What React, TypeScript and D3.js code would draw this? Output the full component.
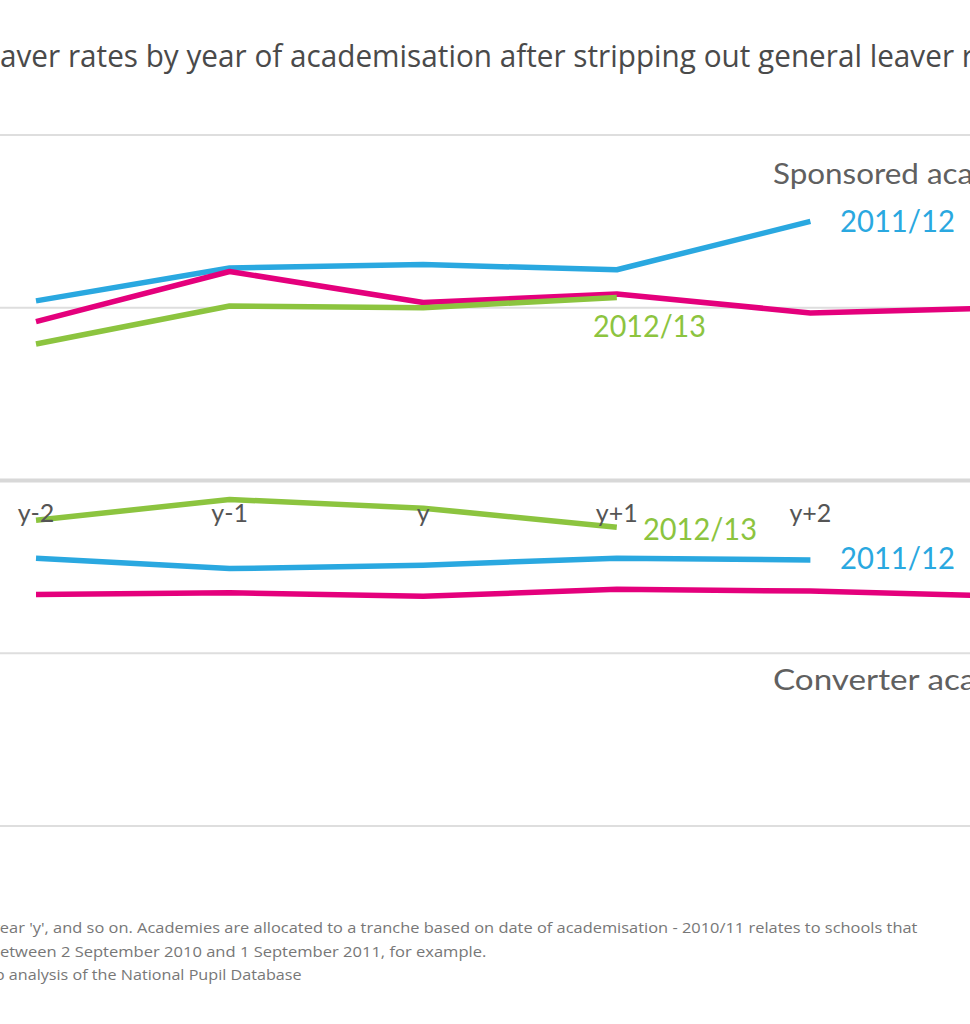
import React, { useEffect, useRef } from "react";
import * as d3 from "d3";

const periods = ["y-2", "y-1", "y", "y+1", "y+2", "y+3"];
const tickLabels = ["y-2", "y-1", "y", "y+1", "y+2"];

// excess leaver rates (pp), sponsored academies
const sponsored201011 = [0.92, 1.21, 1.03, 1.08, 0.97, 1.0];
const sponsored201112 = [1.04, 1.23, 1.25, 1.22, 1.5];
const sponsored201213 = [0.79, 1.01, 1.0, 1.06];

// converter academies
const converter201011 = [-0.66, -0.65, -0.67, -0.63, -0.64, -0.67];
const converter201112 = [-0.45, -0.51, -0.49, -0.45, -0.46];
const converter201213 = [-0.23, -0.11, -0.16, -0.27];

const gridValues = [2, 1, -1, -2];

const title =
  "Leaver rates by year of academisation after stripping out general leaver rates";
const notes = [
  "Notes: the year of academisation is year 'y', and so on. Academies are allocated to a tranche  based on date of academisation - 2010/11 relates to schools that",
  "converted between 2 September 2010 and 1 September 2011, for example.",
  "Source: Education Datalab analysis of the National Pupil Database",
];

const BLUE = "#2aa8e0";
const PINK = "#e4007c";
const GREEN = "#8cc43f";

const W = 970;
const H = 1024;

const App = () => {
  const ref = useRef<SVGSVGElement>(null);

  useEffect(() => {
    const svg = d3.select(ref.current);
    svg.selectAll("*").remove();

    const x = d3.scalePoint<string>().domain(periods).range([36, 1004]);
    const y = d3.scaleLinear().domain([-2, 2]).range([826, 135]);

    // text placed so that a given char sits at px, optionally squeezed to a width
    const placeText = (
      str: string,
      opts: {
        px: number;
        py: number;
        size: number;
        fill: string;
        family?: string;
        from?: number;
        to?: number;
        width?: number;
      }
    ) => {
      const t = svg
        .append("text")
        .attr("font-family", opts.family || "Lato, 'Open Sans', sans-serif")
        .attr("font-size", opts.size)
        .attr("fill", opts.fill)
        .text(str);
      const node = t.node() as SVGTextElement;
      const from = opts.from || 0;
      const pre = from ? node.getSubStringLength(0, from) : 0;
      let sx = 1;
      if (opts.width) {
        const to = opts.to ?? str.length;
        sx = opts.width / node.getSubStringLength(from, to - from);
      }
      t.attr("x", -pre).attr("y", 0);
      t.attr("transform", `translate(${opts.px},${opts.py}) scale(${sx},1)`);
      return t;
    };

    // title
    const tStart = title.indexOf("aver");
    const tEnd = title.lastIndexOf("leaver") + 7;
    placeText(title, {
      px: 0,
      py: 67,
      size: 31,
      fill: "#4a4a4a",
      family: "'Open Sans', sans-serif",
      from: tStart,
      to: tEnd,
      width: 962,
    });

    // gridlines
    svg
      .append("g")
      .selectAll("line")
      .data(gridValues)
      .enter()
      .append("line")
      .attr("x1", 0)
      .attr("x2", W)
      .attr("y1", (d) => y(d))
      .attr("y2", (d) => y(d))
      .attr("stroke", "#dedede")
      .attr("stroke-width", 2);

    svg
      .append("line")
      .attr("x1", 0)
      .attr("x2", W)
      .attr("y1", y(0))
      .attr("y2", y(0))
      .attr("stroke", "#d8d8d8")
      .attr("stroke-width", 4);

    const line = d3
      .line<number>()
      .x((d, i) => x(periods[i]) as number)
      .y((d) => y(d));

    const series = [
      { values: sponsored201112, color: BLUE },
      { values: sponsored201011, color: PINK },
      { values: sponsored201213, color: GREEN },
      { values: converter201112, color: BLUE },
      { values: converter201011, color: PINK },
      { values: converter201213, color: GREEN },
    ];

    svg
      .append("g")
      .selectAll("path")
      .data(series)
      .enter()
      .append("path")
      .attr("d", (d) => line(d.values))
      .attr("fill", "none")
      .attr("stroke", (d) => d.color)
      .attr("stroke-width", 5.5)
      .attr("stroke-linejoin", "round");

    // x tick labels
    svg
      .append("g")
      .selectAll("text")
      .data(tickLabels)
      .enter()
      .append("text")
      .attr("x", (d) => x(d) as number)
      .attr("y", 522)
      .attr("text-anchor", "middle")
      .attr("font-family", "Lato, sans-serif")
      .attr("font-size", 25)
      .attr("fill", "#555")
      .text((d) => d);

    // panel labels
    placeText("Sponsored academies", {
      px: 773,
      py: 184,
      size: 29,
      fill: "#606060",
      to: 9,
      width: 146,
    });
    placeText("Converter academies", {
      px: 773,
      py: 690,
      size: 29,
      fill: "#606060",
      to: 9,
      width: 146,
    });

    // series labels
    placeText("2011/12", { px: 840, py: 232, size: 31, fill: BLUE, width: 115 });
    placeText("2012/13", { px: 593, py: 337, size: 31, fill: GREEN, width: 113 });
    placeText("2012/13", { px: 643, py: 540, size: 31, fill: GREEN, width: 114 });
    placeText("2011/12", { px: 840, py: 569, size: 31, fill: BLUE, width: 115 });

    // notes
    const n0 = notes[0];
    placeText(n0, {
      px: 0,
      py: 933,
      size: 14,
      fill: "#777",
      family: "'Open Sans', sans-serif",
      from: n0.indexOf("ear 'y'"),
      width: 918,
    });
    const n1 = notes[1];
    placeText(n1, {
      px: 0,
      py: 957,
      size: 14,
      fill: "#777",
      family: "'Open Sans', sans-serif",
      from: n1.indexOf("etween"),
      width: 487,
    });
    const n2 = notes[2];
    placeText(n2, {
      px: 9,
      py: 980,
      size: 14,
      fill: "#777",
      family: "'Open Sans', sans-serif",
      from: n2.indexOf("analysis"),
      width: 293,
    });
  }, []);

  return (
    <svg
      ref={ref}
      width={W}
      height={H}
      style={{ position: "absolute", left: 0, top: 0, background: "#fff" }}
    ></svg>
  );
};

export default App;
